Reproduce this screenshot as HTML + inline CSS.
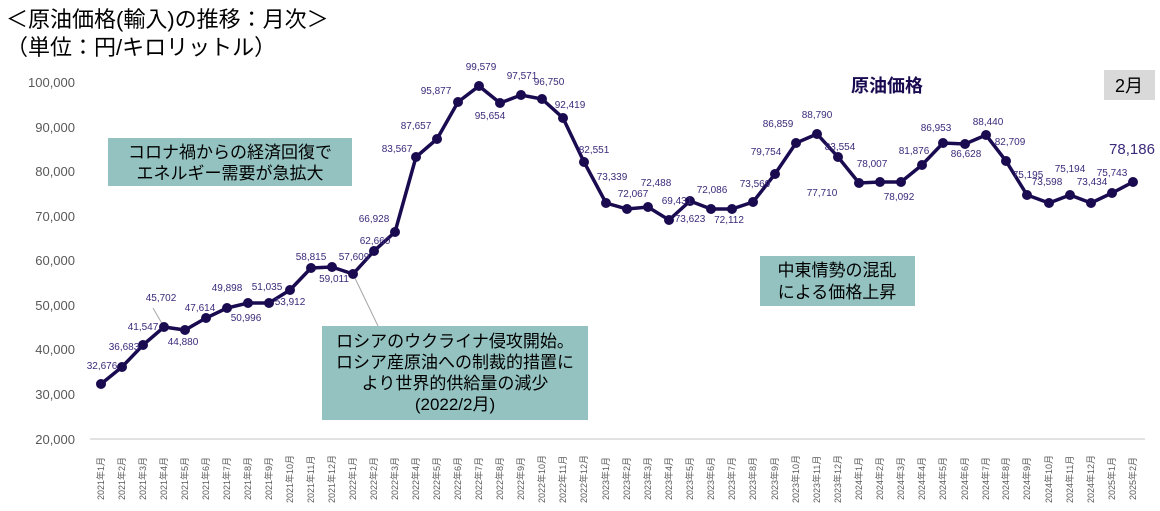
<!DOCTYPE html>
<html><head><meta charset="utf-8"><style>
body{margin:0;width:1160px;height:506px;background:#fff;overflow:hidden;font-family:"Liberation Sans","Noto Sans CJK JP",sans-serif}
</style></head><body>
<svg width="1160" height="506" xmlns="http://www.w3.org/2000/svg" font-family="Liberation Sans, Noto Sans CJK JP, sans-serif">
<text x="6" y="27" font-size="22" fill="#000">＜原油価格(輸入)の推移：月次＞</text>
<text x="6" y="55" font-size="22" fill="#000">（単位：円/キロリットル）</text>
<g font-size="13" fill="#595959" text-anchor="end">
<text x="75" y="87">100,000</text><text x="75" y="132">90,000</text><text x="75" y="176">80,000</text><text x="75" y="221">70,000</text><text x="75" y="265">60,000</text><text x="75" y="310">50,000</text><text x="75" y="354">40,000</text><text x="75" y="399">30,000</text><text x="75" y="444">20,000</text>
</g>
<line x1="90" y1="439" x2="1145" y2="439" stroke="#d9d9d9" stroke-width="1.5"/>
<rect x="108" y="138" width="244" height="48" fill="#93c2c0"/>
<text x="230" y="158" font-size="17" text-anchor="middle">コロナ禍からの経済回復で</text>
<text x="230" y="179" font-size="17" text-anchor="middle">エネルギー需要が急拡大</text>
<rect x="322" y="326" width="266" height="94" fill="#93c2c0"/>
<g font-size="17" text-anchor="middle"><text x="455" y="347">ロシアのウクライナ侵攻開始。</text><text x="455" y="368">ロシア産原油への制裁的措置に</text><text x="455" y="389">より世界的供給量の減少</text><text x="455" y="410">(2022/2月)</text></g>
<rect x="760" y="256" width="155" height="50" fill="#93c2c0"/>
<g font-size="17" text-anchor="middle"><text x="837" y="276">中東情勢の混乱</text><text x="837" y="298">による価格上昇</text></g>
<text x="887" y="92" font-size="18" font-weight="bold" fill="#1a0a50" text-anchor="middle">原油価格</text>
<rect x="1104" y="70" width="51" height="30" fill="#d9d9d9"/>
<text x="1129" y="92" font-size="18" text-anchor="middle">2月</text>
<g stroke="#a6a6a6" stroke-width="1"><line x1="353" y1="274" x2="378" y2="326"/><line x1="164" y1="327" x2="153" y2="308"/></g>
<polyline fill="none" stroke="#1a0a50" stroke-width="3.5" points="101,384 122,367 143,345 164,327 185,330 206,318 227,308 248,303 269,303 290,290 311,268 332,267 353,274 374,251 395,232 416,157 437,139 458,102 479,86 500,103 521,95 542,99 563,118 584,162 606,203 627,209 648,207 669,220 690,201 711,209 732,209 753,202 775,174 796,143 817,134 838,157 859,183 880,182 901,182 922,165 943,143 965,144 986,135 1006,161 1027,195 1049,203 1070,195 1091,203 1112,193 1133,182"/>
<g fill="#1a0a50">
<circle cx="101" cy="384" r="5"/><circle cx="122" cy="367" r="5"/><circle cx="143" cy="345" r="5"/><circle cx="164" cy="327" r="5"/><circle cx="185" cy="330" r="5"/><circle cx="206" cy="318" r="5"/><circle cx="227" cy="308" r="5"/><circle cx="248" cy="303" r="5"/><circle cx="269" cy="303" r="5"/><circle cx="290" cy="290" r="5"/><circle cx="311" cy="268" r="5"/><circle cx="332" cy="267" r="5"/><circle cx="353" cy="274" r="5"/><circle cx="374" cy="251" r="5"/><circle cx="395" cy="232" r="5"/><circle cx="416" cy="157" r="5"/><circle cx="437" cy="139" r="5"/><circle cx="458" cy="102" r="5"/><circle cx="479" cy="86" r="5"/><circle cx="500" cy="103" r="5"/><circle cx="521" cy="95" r="5"/><circle cx="542" cy="99" r="5"/><circle cx="563" cy="118" r="5"/><circle cx="584" cy="162" r="5"/><circle cx="606" cy="203" r="5"/><circle cx="627" cy="209" r="5"/><circle cx="648" cy="207" r="5"/><circle cx="669" cy="220" r="5"/><circle cx="690" cy="201" r="5"/><circle cx="711" cy="209" r="5"/><circle cx="732" cy="209" r="5"/><circle cx="753" cy="202" r="5"/><circle cx="775" cy="174" r="5"/><circle cx="796" cy="143" r="5"/><circle cx="817" cy="134" r="5"/><circle cx="838" cy="157" r="5"/><circle cx="859" cy="183" r="5"/><circle cx="880" cy="182" r="5"/><circle cx="901" cy="182" r="5"/><circle cx="922" cy="165" r="5"/><circle cx="943" cy="143" r="5"/><circle cx="965" cy="144" r="5"/><circle cx="986" cy="135" r="5"/><circle cx="1006" cy="161" r="5"/><circle cx="1027" cy="195" r="5"/><circle cx="1049" cy="203" r="5"/><circle cx="1070" cy="195" r="5"/><circle cx="1091" cy="203" r="5"/><circle cx="1112" cy="193" r="5"/><circle cx="1133" cy="182" r="5"/>
</g>
<g font-size="10" fill="#3b2a7a" text-anchor="middle">
<text x="102" y="369">32,676</text><text x="124" y="350">36,683</text><text x="143" y="330">41,547</text><text x="161" y="301">45,702</text><text x="183" y="345">44,880</text><text x="200" y="311">47,614</text><text x="227" y="291">49,898</text><text x="246" y="321">50,996</text><text x="267" y="290">51,035</text><text x="290" y="305">53,912</text><text x="311" y="260">58,815</text><text x="334" y="282">59,011</text><text x="354" y="260">57,609</text><text x="375" y="244">62,660</text><text x="374" y="222">66,928</text><text x="397" y="152">83,567</text><text x="416" y="129">87,657</text><text x="436" y="94">95,877</text><text x="481" y="70">99,579</text><text x="490" y="119">95,654</text><text x="522" y="79">97,571</text><text x="549" y="85">96,750</text><text x="570" y="108">92,419</text><text x="594" y="153">82,551</text><text x="612" y="180">73,339</text><text x="633" y="197">72,067</text><text x="656" y="186">72,488</text><text x="677" y="204">69,431</text><text x="690" y="222">73,623</text><text x="712" y="193">72,086</text><text x="729" y="223">72,112</text><text x="755" y="187">73,569</text><text x="766" y="155">79,754</text><text x="778" y="127">86,859</text><text x="817" y="118">88,790</text><text x="840" y="150">83,554</text><text x="822" y="196">77,710</text><text x="872" y="167">78,007</text><text x="899" y="200">78,092</text><text x="914" y="154">81,876</text><text x="936" y="131">86,953</text><text x="966" y="157">86,628</text><text x="988" y="125">88,440</text><text x="1010" y="145">82,709</text><text x="1028" y="178">75,195</text><text x="1047" y="185">73,598</text><text x="1070" y="172">75,194</text><text x="1092" y="185">73,434</text><text x="1112" y="176">75,743</text>
<text x="1132" y="154" font-size="15">78,186</text>
</g>
<g font-size="9" fill="#595959">
<text transform="translate(104,500) rotate(-90)">2021年1月</text><text transform="translate(125,500) rotate(-90)">2021年2月</text><text transform="translate(146,500) rotate(-90)">2021年3月</text><text transform="translate(167,500) rotate(-90)">2021年4月</text><text transform="translate(188,500) rotate(-90)">2021年5月</text><text transform="translate(209,500) rotate(-90)">2021年6月</text><text transform="translate(230,500) rotate(-90)">2021年7月</text><text transform="translate(251,500) rotate(-90)">2021年8月</text><text transform="translate(272,500) rotate(-90)">2021年9月</text><text transform="translate(293,503) rotate(-90)">2021年10月</text><text transform="translate(314,503) rotate(-90)">2021年11月</text><text transform="translate(335,503) rotate(-90)">2021年12月</text>
<text transform="translate(356,500) rotate(-90)">2022年1月</text><text transform="translate(377,500) rotate(-90)">2022年2月</text><text transform="translate(398,500) rotate(-90)">2022年3月</text><text transform="translate(419,500) rotate(-90)">2022年4月</text><text transform="translate(440,500) rotate(-90)">2022年5月</text><text transform="translate(461,500) rotate(-90)">2022年6月</text><text transform="translate(482,500) rotate(-90)">2022年7月</text><text transform="translate(503,500) rotate(-90)">2022年8月</text><text transform="translate(524,500) rotate(-90)">2022年9月</text><text transform="translate(545,503) rotate(-90)">2022年10月</text><text transform="translate(566,503) rotate(-90)">2022年11月</text><text transform="translate(587,503) rotate(-90)">2022年12月</text>
<text transform="translate(609,500) rotate(-90)">2023年1月</text><text transform="translate(630,500) rotate(-90)">2023年2月</text><text transform="translate(651,500) rotate(-90)">2023年3月</text><text transform="translate(672,500) rotate(-90)">2023年4月</text><text transform="translate(693,500) rotate(-90)">2023年5月</text><text transform="translate(714,500) rotate(-90)">2023年6月</text><text transform="translate(735,500) rotate(-90)">2023年7月</text><text transform="translate(756,500) rotate(-90)">2023年8月</text><text transform="translate(778,500) rotate(-90)">2023年9月</text><text transform="translate(799,503) rotate(-90)">2023年10月</text><text transform="translate(820,503) rotate(-90)">2023年11月</text><text transform="translate(841,503) rotate(-90)">2023年12月</text>
<text transform="translate(862,500) rotate(-90)">2024年1月</text><text transform="translate(883,500) rotate(-90)">2024年2月</text><text transform="translate(904,500) rotate(-90)">2024年3月</text><text transform="translate(925,500) rotate(-90)">2024年4月</text><text transform="translate(946,500) rotate(-90)">2024年5月</text><text transform="translate(968,500) rotate(-90)">2024年6月</text><text transform="translate(989,500) rotate(-90)">2024年7月</text><text transform="translate(1009,500) rotate(-90)">2024年8月</text><text transform="translate(1030,500) rotate(-90)">2024年9月</text><text transform="translate(1052,503) rotate(-90)">2024年10月</text><text transform="translate(1073,503) rotate(-90)">2024年11月</text><text transform="translate(1094,503) rotate(-90)">2024年12月</text>
<text transform="translate(1115,500) rotate(-90)">2025年1月</text><text transform="translate(1136,500) rotate(-90)">2025年2月</text>
</g>
</svg>
</body></html>
